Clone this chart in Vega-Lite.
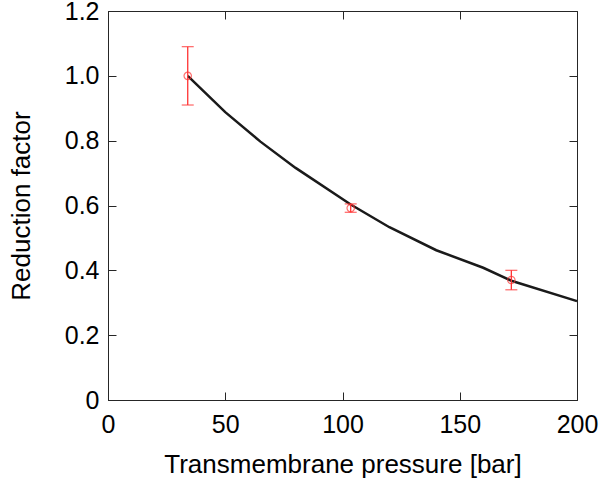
{
  "$schema": "https://vega.github.io/schema/vega-lite/v6.json",
  "width": 469,
  "height": 389,
  "autosize": "none",
  "padding": {"left": 108, "top": 11, "right": 24, "bottom": 84},
  "background": "white",
  "config": {
    "view": {"stroke": "#262626", "strokeWidth": 1},
    "axis": {
      "labelFont": "Liberation Sans",
      "titleFont": "Liberation Sans",
      "labelFontSize": 25,
      "titleFontSize": 26,
      "labelColor": "#000000",
      "titleColor": "#000000",
      "titleFontWeight": "normal",
      "domainColor": "#262626",
      "tickColor": "#262626",
      "tickSize": 8,
      "labelFlush": false,
      "grid": false
    }
  },
  "datasets": {
    "pts": [
      {"p": 34, "r": 1.0, "lo": 0.91, "hi": 1.09},
      {"p": 103.5, "r": 0.592, "lo": 0.579, "hi": 0.605},
      {"p": 172, "r": 0.37, "lo": 0.34, "hi": 0.40}
    ],
    "fit": [
      {"p": 34, "r": 1.0},
      {"p": 50, "r": 0.888},
      {"p": 65, "r": 0.797},
      {"p": 80, "r": 0.716},
      {"p": 103.5, "r": 0.603},
      {"p": 120, "r": 0.533},
      {"p": 140, "r": 0.462},
      {"p": 160, "r": 0.408},
      {"p": 172, "r": 0.368},
      {"p": 200, "r": 0.305}
    ]
  },
  "layer": [
    {
      "data": {"name": "fit"},
      "mark": {"type": "line", "color": "#1a1a1a", "strokeWidth": 2.5},
      "encoding": {
        "x": {"field": "p", "type": "quantitative", "scale": {"domain": [0, 200], "nice": false},
          "axis": {"title": "Transmembrane pressure [bar]", "values": [0, 50, 100, 150, 200], "ticks": false, "labelPadding": 12, "titlePadding": 14}},
        "y": {"field": "r", "type": "quantitative", "scale": {"domain": [0, 1.2], "nice": false},
          "axis": {"title": "Reduction factor", "values": [0, 0.2, 0.4, 0.6, 0.8, 1.0, 1.2], "ticks": false, "labelExpr": "datum.value == 0 ? '0' : format(datum.value, '.1f')", "labelPadding": 9, "titlePadding": 30}}
      }
    },
    {
      "data": {"name": "pts"},
      "mark": {"type": "rule", "color": "#ff3333", "strokeWidth": 1.3},
      "encoding": {
        "x": {"field": "p", "type": "quantitative", "axis": {"orient": "top", "offset": -389, "labels": false, "title": null, "values": [0, 50, 100, 150, 200], "domain": false}},
        "y": {"field": "lo", "type": "quantitative", "axis": {"orient": "right", "offset": -469, "labels": false, "title": null, "values": [0, 0.2, 0.4, 0.6, 0.8, 1.0, 1.2], "domain": false}},
        "y2": {"field": "hi"}
      }
    },
    {
      "data": {"name": "pts"},
      "mark": {"type": "tick", "orient": "horizontal", "color": "#ff3333", "size": 12, "thickness": 1.3},
      "encoding": {
        "x": {"field": "p", "type": "quantitative", "axis": {"orient": "bottom", "offset": -389, "labels": false, "title": null, "values": [0, 50, 100, 150, 200], "domain": false}},
        "y": {"field": "lo", "type": "quantitative", "axis": {"orient": "left", "offset": -469, "labels": false, "title": null, "values": [0, 0.2, 0.4, 0.6, 0.8, 1.0, 1.2], "domain": false}}
      }
    },
    {
      "data": {"name": "pts"},
      "mark": {"type": "tick", "orient": "horizontal", "color": "#ff3333", "size": 12, "thickness": 1.3},
      "encoding": {
        "x": {"field": "p", "type": "quantitative", "axis": null},
        "y": {"field": "hi", "type": "quantitative", "axis": null}
      }
    },
    {
      "data": {"name": "pts"},
      "mark": {"type": "point", "shape": "circle", "filled": false, "color": "#ff3333", "size": 55, "strokeWidth": 1.2},
      "encoding": {
        "x": {"field": "p", "type": "quantitative", "axis": null},
        "y": {"field": "r", "type": "quantitative", "axis": null}
      }
    }
  ],
  "resolve": {"axis": {"x": "independent", "y": "independent"}}
}
